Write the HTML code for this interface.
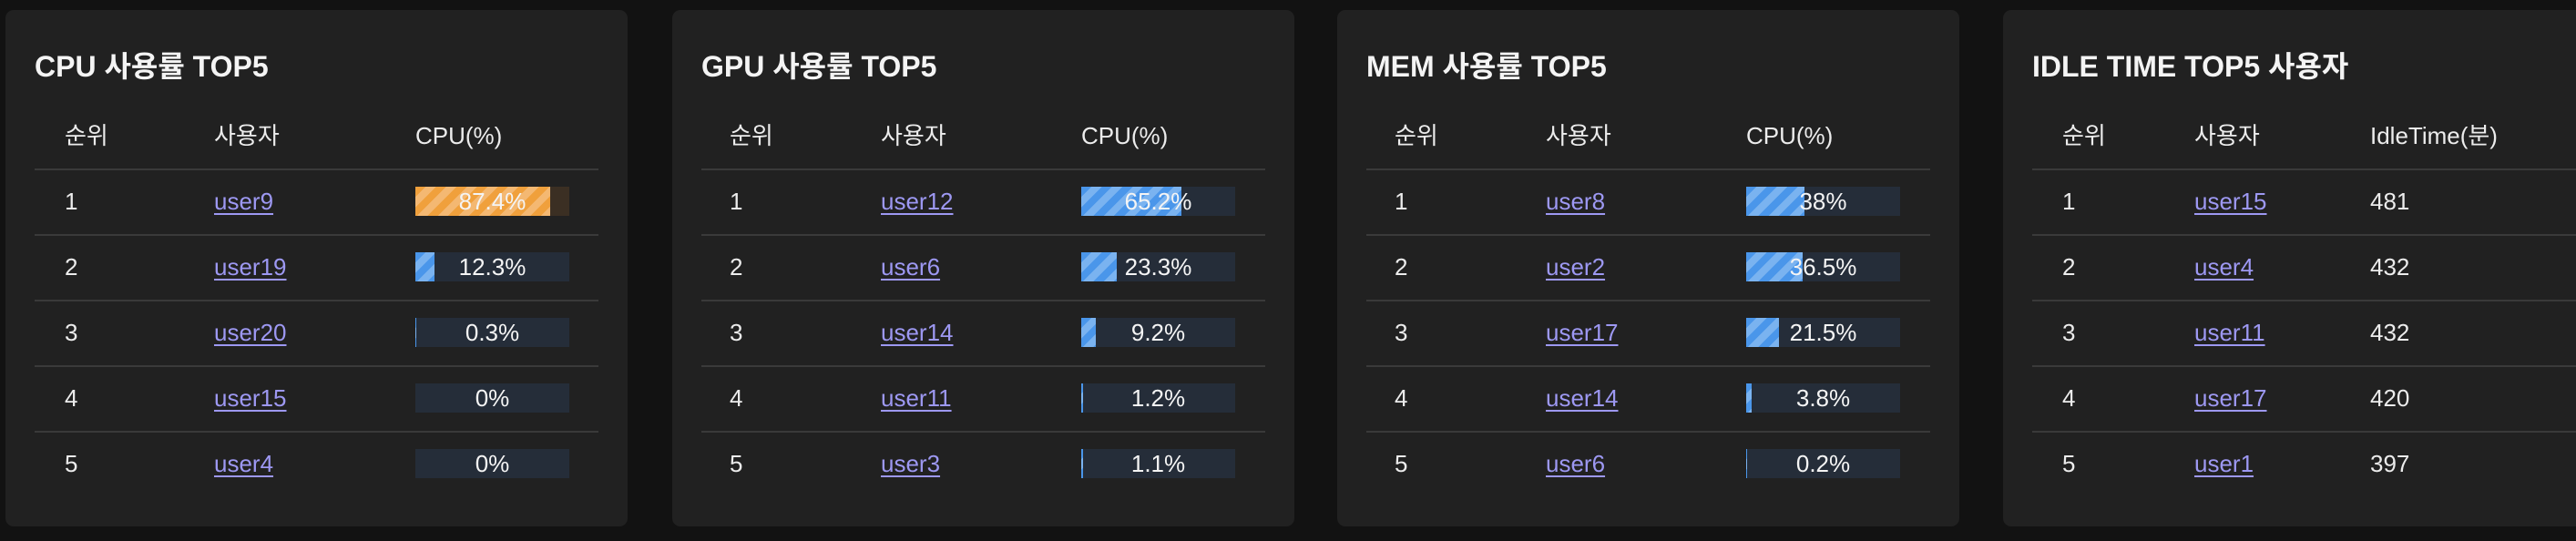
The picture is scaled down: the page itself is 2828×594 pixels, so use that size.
<!DOCTYPE html>
<html><head><meta charset="utf-8">
<style>
html,body{margin:0;padding:0;width:2828px;height:594px;overflow:hidden;background:#121212;
font-family:"Liberation Sans","Noto Sans CJK KR",sans-serif;color:#ececec}
.card{position:absolute;top:11px;width:683px;height:567px;background:#212121;border-radius:9px}
.title{position:absolute;left:32px;top:42px;font-size:32px;font-weight:bold;line-height:40px;color:#f4f4f4}
.hd,.cell{position:absolute;font-size:26px;line-height:32px;white-space:nowrap}
.hd{top:122px}
.line{position:absolute;left:32px;right:32px;height:2px;background:#3a3a3a}
a.u{color:#9d98f2;text-decoration:underline;text-decoration-thickness:2px;text-underline-offset:4px}
.bar{position:absolute;width:169px;height:32px;background:#252d39}
.bar.o{background:#3b2f23}
.fill{position:absolute;left:0;top:0;height:32px;
background:repeating-linear-gradient(135deg,#4a96ea 0 8px,#7ab3f0 8px 16px)}
.bar.o .fill{background:repeating-linear-gradient(135deg,#f0a03c 0 8px,#f4b872 8px 16px)}
.bt{position:absolute;left:0;top:0;width:169px;text-align:center;font-size:26px;line-height:32px;color:#f4f4f4}
</style></head><body>
<div id="root"></div>
<script>
const titles=["CPU 사용률 TOP5","GPU 사용률 TOP5","MEM 사용률 TOP5","IDLE TIME TOP5 사용자"];
const valueHeaders=["CPU(%)","CPU(%)","CPU(%)","IdleTime(분)"];
const cpuUsers=["user9","user19","user20","user15","user4"];
const cpuValues=[87.4,12.3,0.3,0,0];
const gpuUsers=["user12","user6","user14","user11","user3"];
const gpuValues=[65.2,23.3,9.2,1.2,1.1];
const memUsers=["user8","user2","user17","user14","user6"];
const memValues=[38,36.5,21.5,3.8,0.2];
const idleUsers=["user15","user4","user11","user17","user1"];
const idleValues=[481,432,432,420,397];

const usersList=[cpuUsers,gpuUsers,memUsers,idleUsers];
const valuesList=[cpuValues,gpuValues,memValues,idleValues];
const cardLeft=[6,738,1468,2199];
const colX=[[65,229,450],[63,229,449],[63,229,449],[65,210,403]];
const root=document.getElementById('root');
const lineY=[174,246,318,390,462];
function barW(v){return 169*v/100;}
for(let c=0;c<4;c++){
  const card=document.createElement('div');
  card.className='card';card.style.left=cardLeft[c]+'px';
  
  
  const t=document.createElement('div');t.className='title';t.textContent=titles[c];
  
  
  card.appendChild(t);
  const hs=["순위","사용자",valueHeaders[c]];
  for(let h=0;h<3;h++){
    const e=document.createElement('div');e.className='hd';e.style.left=colX[c][h]+'px';e.textContent=hs[h];
    
    
    card.appendChild(e);
  }
  for(let r=0;r<5;r++){
    const ln=document.createElement('div');ln.className='line';ln.style.top=lineY[r]+'px';
    
    
    card.appendChild(ln);
    const cy=lineY[r]+20;
    const rk=document.createElement('div');rk.className='cell';rk.style.left=colX[c][0]+'px';rk.style.top=cy+'px';rk.textContent=String(r+1);
    
    
    card.appendChild(rk);
    const uc=document.createElement('div');uc.className='cell';uc.style.left=colX[c][1]+'px';uc.style.top=cy+'px';
    const a=document.createElement('a');a.className='u';a.href='#';a.textContent=usersList[c][r];
    
    
    uc.appendChild(a);card.appendChild(uc);
    const v=valuesList[c][r];
    if(c<3){
      const b=document.createElement('div');b.className='bar'+(v>=80?' o':'');
      b.style.left=colX[c][2]+'px';b.style.top=(lineY[r]+20)+'px';
      
      
      const f=document.createElement('div');f.className='fill';f.style.width=Math.max(barW(v),v>0?1:0)+'px';
      
      
      b.appendChild(f);
      const bt=document.createElement('div');bt.className='bt';bt.textContent=v+'%';
      
      
      b.appendChild(bt);card.appendChild(b);
    }else{
      const vc=document.createElement('div');vc.className='cell';vc.style.left=colX[c][2]+'px';vc.style.top=cy+'px';vc.textContent=String(v);
      
      
      card.appendChild(vc);
    }
  }
  root.appendChild(card);
}
</script>
</body></html>
